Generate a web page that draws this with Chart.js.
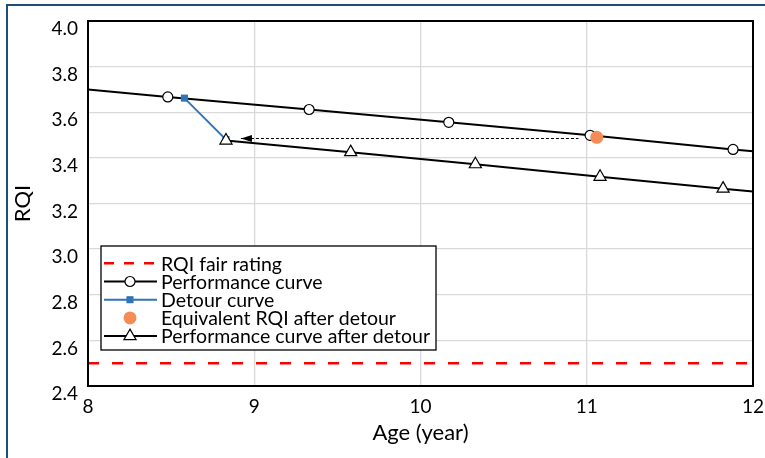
<!DOCTYPE html>
<html>
<head>
<meta charset="utf-8">
<script src="https://cdn.jsdelivr.net/npm/chart.js@4"></script>
<style>
  html, body { margin: 0; padding: 0; background: #fff; }
</style>
</head>
<body>
<canvas id="chart-1" width="765" height="458"></canvas>
<script>
// data
const perfAge = [8, 8.48, 9.33, 10.17, 11.02, 11.88, 12];
const perfRqi = [3.70, 3.667, 3.612, 3.556, 3.499, 3.437, 3.429];
const perfMarks = [0, 5, 5, 5, 5, 5, 0];

const detourAge = [8.58, 8.83];
const detourRqi = [3.662, 3.48];

const afterAge = [8.83, 9.58, 10.33, 11.08, 11.82, 12];
const afterRqi = [3.476, 3.425, 3.372, 3.317, 3.265, 3.253];
const afterMarks = [7, 7, 7, 7, 7, 0];

const equivAge = [11.06];
const equivRqi = [3.49];

const arrowAge = [8.92, 10.95];
const arrowRqi = [3.485, 3.485];

const fairAge = [8, 12];
const fairRqi = [2.5, 2.5];

const xTicks = [8, 9, 10, 11, 12];
const yTicks = [2.4, 2.6, 2.8, 3.0, 3.2, 3.4, 3.6, 3.8, 4.0];

const xy = (xs, ys) => xs.map((x, i) => ({ x: x, y: ys[i] }));

const FONT = "Lato, 'Open Sans', sans-serif";
Chart.defaults.font.family = FONT;
Chart.defaults.font.size = 19;
Chart.defaults.color = "#000";

function marker(ctx, style, x, y, r, fill, stroke, lw) {
  ctx.save();
  ctx.setLineDash([]);
  ctx.fillStyle = fill;
  ctx.strokeStyle = stroke;
  ctx.lineWidth = lw;
  ctx.beginPath();
  if (style === "circle") {
    ctx.arc(x, y, r, 0, Math.PI * 2);
  } else if (style === "rect") {
    const s = r * Math.SQRT1_2;
    ctx.rect(x - s, y - s, 2 * s, 2 * s);
  } else if (style === "triangle") {
    ctx.moveTo(x, y - r);
    ctx.lineTo(x + r * 0.866, y + r / 2);
    ctx.lineTo(x - r * 0.866, y + r / 2);
    ctx.closePath();
  }
  ctx.fill();
  if (lw > 0) ctx.stroke();
  ctx.restore();
}

const framePlugin = {
  id: "frame",
  beforeDraw(chart) {
    const ctx = chart.ctx;
    ctx.save();
    ctx.fillStyle = "#fff";
    ctx.fillRect(0, 0, chart.width, chart.height);
    ctx.fillStyle = "#1f4e79";
    ctx.fillRect(6, 4, chart.width, 2);
    ctx.fillRect(6, 4, 2, chart.height);
    ctx.restore();
  },
  afterDatasetsDraw(chart) {
    const ctx = chart.ctx;
    const a = chart.chartArea;
    ctx.save();
    ctx.strokeStyle = "#000";
    ctx.lineWidth = 2;
    ctx.strokeRect(a.left, a.top, a.right - a.left, a.bottom - a.top);
    // arrow head on the dashed arrow
    const p = chart.getDatasetMeta(5).data[0];
    ctx.fillStyle = "#000";
    ctx.beginPath();
    ctx.moveTo(p.x, p.y);
    ctx.lineTo(p.x + 11, p.y - 3.5);
    ctx.lineTo(p.x + 11, p.y + 3.5);
    ctx.closePath();
    ctx.fill();
    ctx.restore();
  },
  afterDraw(chart) {
    const ctx = chart.ctx;
    const box = { left: 101, top: 246, right: 436, bottom: 350 };
    ctx.save();
    ctx.fillStyle = "#fff";
    ctx.fillRect(box.left, box.top, box.right - box.left, box.bottom - box.top);
    ctx.strokeStyle = "#000";
    ctx.lineWidth = 1.3;
    ctx.strokeRect(box.left, box.top, box.right - box.left, box.bottom - box.top);
    const order = [0, 1, 2, 3, 4];
    const marks = [null, ["circle", 5], ["rect", 5], ["circle", 6.5], ["triangle", 7]];
    ctx.font = "19.5px " + FONT;
    ctx.textBaseline = "middle";
    order.forEach((di, i) => {
      const ds = chart.data.datasets[di];
      const y = 263.3 + i * 18.2;
      if (ds.showLine !== false) {
        ctx.save();
        ctx.strokeStyle = ds.borderColor;
        ctx.lineWidth = ds.borderWidth;
        ctx.setLineDash(ds.borderDash ? [10, 10] : []);
        ctx.beginPath();
        ctx.moveTo(104, y);
        ctx.lineTo(157, y);
        ctx.stroke();
        ctx.restore();
      }
      if (marks[i]) {
        marker(ctx, marks[i][0], 130, y, marks[i][1], ds.pointBackgroundColor,
          ds.pointBorderColor, ds.pointBorderWidth);
      }
      ctx.fillStyle = "#000";
      ctx.fillText(ds.label, 161, y + 1);
    });
    ctx.restore();
  }
};

const ctx1 = document.getElementById("chart-1").getContext("2d");
const myChart = new Chart(ctx1, {
  type: "line",
  data: {
    datasets: [
      {
        label: "RQI fair rating",
        data: xy(fairAge, fairRqi),
        borderColor: "#ff0000",
        borderWidth: 2.5,
        borderDash: [11, 13],
        pointRadius: 0,
        order: 5,
      },
      {
        label: "Performance curve",
        data: xy(perfAge, perfRqi),
        borderColor: "#000",
        borderWidth: 2,
        pointStyle: "circle",
        pointRadius: perfMarks,
        pointBackgroundColor: "#fff",
        pointBorderColor: "#000",
        pointBorderWidth: 1.2,
        order: 3,
      },
      {
        label: "Detour curve",
        data: xy(detourAge, detourRqi),
        borderColor: "#2e75b6",
        borderWidth: 2,
        pointStyle: "rect",
        pointRadius: 5,
        pointBackgroundColor: "#2e75b6",
        pointBorderColor: "#2e75b6",
        pointBorderWidth: 0,
        order: 2,
      },
      {
        label: "Equivalent RQI after detour",
        data: xy(equivAge, equivRqi),
        showLine: false,
        pointStyle: "circle",
        pointRadius: 6.5,
        pointBackgroundColor: "#f68c55",
        pointBorderColor: "#f68c55",
        pointBorderWidth: 0,
        order: 0,
      },
      {
        label: "Performance curve after detour",
        data: xy(afterAge, afterRqi),
        borderColor: "#000",
        borderWidth: 2,
        pointStyle: "triangle",
        pointRadius: afterMarks,
        pointBackgroundColor: "#fff",
        pointBorderColor: "#000",
        pointBorderWidth: 1.2,
        order: 1,
      },
      {
        label: "arrow",
        data: xy(arrowAge, arrowRqi),
        borderColor: "#000",
        borderWidth: 1,
        borderDash: [3, 2],
        pointRadius: 0,
        order: 4,
      },
    ],
  },
  options: {
    responsive: false,
    animation: false,
    layout: { padding: { top: 21, right: 12, left: 0, bottom: 0 } },
    plugins: { legend: { display: false }, tooltip: { enabled: false } },
    scales: {
      x: {
        type: "linear",
        min: 8,
        max: 12,
        afterFit: (s) => { s.height = 72; s.paddingLeft = 0; s.paddingRight = 0; },
        afterBuildTicks: (s) => { s.ticks = xTicks.map((v) => ({ value: v })); },
        grid: { color: "#d9d9d9", lineWidth: 1.3, drawTicks: false },
        border: { display: false },
        ticks: { padding: 9, callback: (v) => String(v) },
        title: { display: true, text: "Age (year)", font: { size: 22 }, padding: { top: 0, bottom: 12 } },
      },
      y: {
        min: 2.4,
        max: 4.0,
        afterFit: (s) => { s.width = 88; s.paddingTop = 0; s.paddingBottom = 0; },
        afterBuildTicks: (s) => { s.ticks = yTicks.map((v) => ({ value: v })); },
        grid: { color: "#d9d9d9", lineWidth: 1.3, drawTicks: false },
        border: { display: false },
        ticks: { padding: 10, labelOffset: 8, callback: (v) => v.toFixed(1) },
        title: { display: true, text: "RQI", font: { size: 22 }, padding: { top: 10, bottom: 0 } },
      },
    },
  },
  plugins: [framePlugin],
});
</script>
</body>
</html>
